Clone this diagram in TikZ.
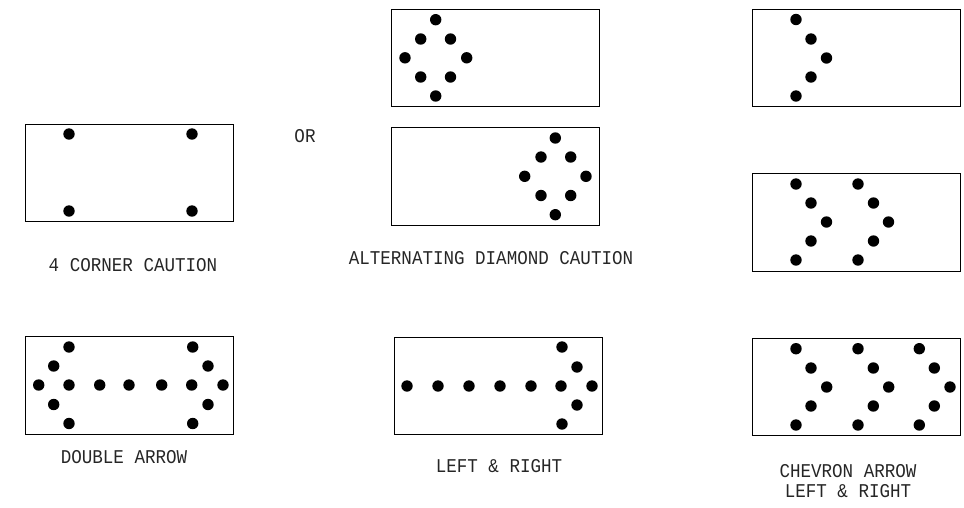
\documentclass[tikz,border=0pt]{standalone}
\usepackage{fontspec}
\setmonofont[FakeStretch=0.9]{Liberation Mono}
\tikzset{
  panel/.style={draw=black,line width=1pt,fill=white},
  lightdot/.style={fill=black,draw=none},
  caption/.style={font=\ttfamily\fontsize{19.5}{20}\selectfont,text=black!85,inner sep=0pt,align=center}
}
\newcommand{\lamps}[1]{\foreach \px/\py in {#1}{\fill[lightdot] (\px,\py) circle[radius=5.7];}}
\begin{document}
\begin{tikzpicture}[x=1pt,y=-1pt]
\useasboundingbox (0,0) rectangle (964,507);
% 4 corner
\draw[panel] (25,124) rectangle (233,221);
\lamps{69/134,192/134,69/211,192/211}
\node[caption] (fourcorner) at (133,265) {4 CORNER CAUTION};
\node[caption] (orlabel) at (305,136) {OR};
% alternating diamond
\draw[panel] (391.7,9) rectangle (599.5,106.3);
\lamps{435.7/19.7,420.7/39,450.5/39,405/57.8,466.7/57.8,420.7/77,450.5/77,435.7/96}
\draw[panel] (391.7,127.3) rectangle (599.5,225.3);
\lamps{555.3/138,541/157,570.7/157,524.7/176.3,586/176.3,541/195.5,570.7/195.5,555.3/214.7}
\node[caption] (diamond) at (491,258) {ALTERNATING DIAMOND CAUTION};
% chevrons
\draw[panel] (752,9) rectangle (960,106);
\lamps{796/19.5,811/39,826.5/58,811/77,796/96}
\draw[panel] (752,173.5) rectangle (960,271);
\lamps{796/184,811/203,826.5/222,811/241,796/260,858/184,873.5/203,888.5/222,873.5/241,858/260}
\draw[panel] (752,338) rectangle (960,435.3);
\lamps{796/348.7,811/368,826.7/387,811/406,796/425,858/348.7,873.3/368,888.7/387,873.3/406,858/425,919.3/348.7,934.3/368,950/387,934.3/406,919.3/425}
\node[caption] (chevron) at (848,471) {CHEVRON ARROW};
\node[caption] (chevronb) at (848,491) {LEFT \& RIGHT};
% double arrow
\draw[panel] (25,336.5) rectangle (233,434);
\lamps{69/347,53.7/366,38.7/385,53.7/404.5,69/423.5,69/385,99.7/385,129/385,161.7/385,191.7/385,223/385,192.7/347,208/366,208/404.5,192.7/423.5}
\node[caption] (doublearrow) at (124,457) {DOUBLE ARROW};
% left and right
\draw[panel] (394.3,337.3) rectangle (602,434.3);
\lamps{407/386,438/386,469/386,500/386,531/386,561/386,592/386,562/347,577/367,577/405,562/424}
\node[caption] (leftright) at (499,466) {LEFT \& RIGHT};
\end{tikzpicture}
\end{document}
